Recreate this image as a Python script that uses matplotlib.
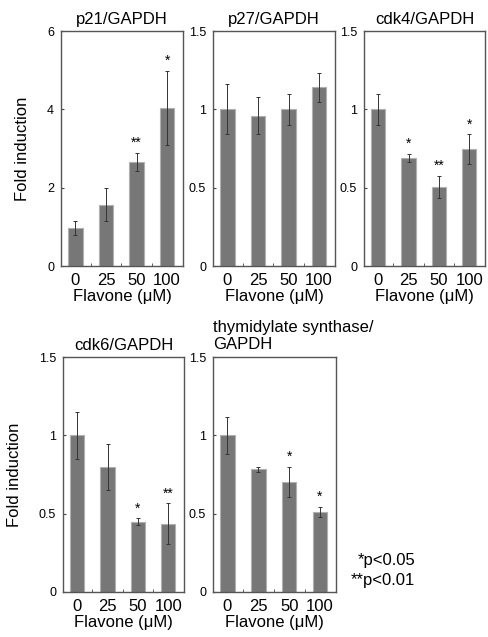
import matplotlib
matplotlib.use("Agg")
import matplotlib.pyplot as plt
import numpy as np

plt.rcParams['font.family'] = ['Liberation Sans', 'DejaVu Sans']

doses = ["0", "25", "50", "100"]

p21_vals = [0.98, 1.57, 2.66, 4.04]
p21_err = [0.18, 0.41, 0.23, 0.94]
p21_sig = ["", "", "**", "*"]

p27_vals = [1.00, 0.96, 1.00, 1.14]
p27_err = [0.16, 0.12, 0.10, 0.09]
p27_sig = ["", "", "", ""]

cdk4_vals = [1.00, 0.69, 0.505, 0.746]
cdk4_err = [0.10, 0.025, 0.07, 0.094]
cdk4_sig = ["", "*", "**", "*"]

cdk6_vals = [1.00, 0.80, 0.45, 0.437]
cdk6_err = [0.15, 0.147, 0.02, 0.13]
cdk6_sig = ["", "", "*", "**"]

ts_vals = [1.00, 0.782, 0.703, 0.511]
ts_err = [0.12, 0.015, 0.097, 0.034]
ts_sig = ["", "", "*", "*"]

W, H = 489, 637
fig = plt.figure(figsize=(W / 100, H / 100), dpi=100)

def rect(x0, y0, x1, y1):
    return [x0 / W, 1 - y1 / H, (x1 - x0) / W, (y1 - y0) / H]

panels = [
    (rect(61, 31, 183, 266), "p21/GAPDH", p21_vals, p21_err, p21_sig, 6, [0, 2, 4, 6], ["0", "2", "4", "6"], True, "center"),
    (rect(213, 31, 335, 266), "p27/GAPDH", p27_vals, p27_err, p27_sig, 1.5, [0, 0.5, 1, 1.5], ["0", "0.5", "1", "1.5"], False, "center"),
    (rect(364, 31, 485, 266), "cdk4/GAPDH", cdk4_vals, cdk4_err, cdk4_sig, 1.5, [0, 0.5, 1, 1.5], ["0", "0.5", "1", "1.5"], False, "center"),
    (rect(63, 357, 184, 592), "cdk6/GAPDH", cdk6_vals, cdk6_err, cdk6_sig, 1.5, [0, 0.5, 1, 1.5], ["0", "0.5", "1", "1.5"], True, "center"),
    (rect(213, 357, 336, 592), "thymidylate synthase/\nGAPDH", ts_vals, ts_err, ts_sig, 1.5, [0, 0.5, 1, 1.5], ["0", "0.5", "1", "1.5"], False, "left"),
]

bar_color = "#777777"
frame_color = "#555555"

for pos, title, vals, errs, sigs, ymax, yt, ytl, ylab, talign in panels:
    ax = fig.add_axes(pos)
    x = np.arange(len(doses))
    ax.bar(x, vals, width=0.47, color=bar_color, edgecolor="#b0b0b0", linewidth=0.8, zorder=2)
    ax.errorbar(x, vals, yerr=errs, fmt="none", ecolor="#333333", elinewidth=0.7,
                capsize=1.5, capthick=0.7, zorder=3)
    for xi, v, e, s in zip(x, vals, errs, sigs):
        if s:
            ax.text(xi, v + e + ymax * 0.012, s, ha="center", va="bottom", fontsize=10)
    ax.set_xlim(-0.47, 3.52)
    ax.set_ylim(0, ymax)
    ax.set_yticks(yt)
    ax.set_yticklabels(ytl)
    ax.set_xticks(x)
    ax.set_xticklabels(doses)
    ax.set_xticks([0.5, 1.5, 2.5], minor=True)
    ax.tick_params(axis="x", which="major", length=0, labelsize=12, pad=5)
    ax.tick_params(axis="x", which="minor", length=2, direction="in", color="#444444")
    ax.tick_params(axis="y", which="major", length=2, direction="in", labelsize=9, pad=5, color="#444444")
    for sp in ax.spines.values():
        sp.set_color(frame_color)
        sp.set_linewidth(1.0)
    ax.set_xlabel("Flavone (μM)", fontsize=12, labelpad=1)
    if ylab:
        ax.set_ylabel("Fold induction", fontsize=12, labelpad=12)
    if talign == "left":
        ax.set_title(title, fontsize=12, loc="left", pad=6, linespacing=1.1)
    else:
        ax.set_title(title, fontsize=12, pad=5)

fig.text(415 / W, 1 - 565 / H, "*p<0.05", ha="right", va="baseline", fontsize=12)
fig.text(415 / W, 1 - 585 / H, "**p<0.01", ha="right", va="baseline", fontsize=12)

fig.savefig("out.png", dpi=100)
